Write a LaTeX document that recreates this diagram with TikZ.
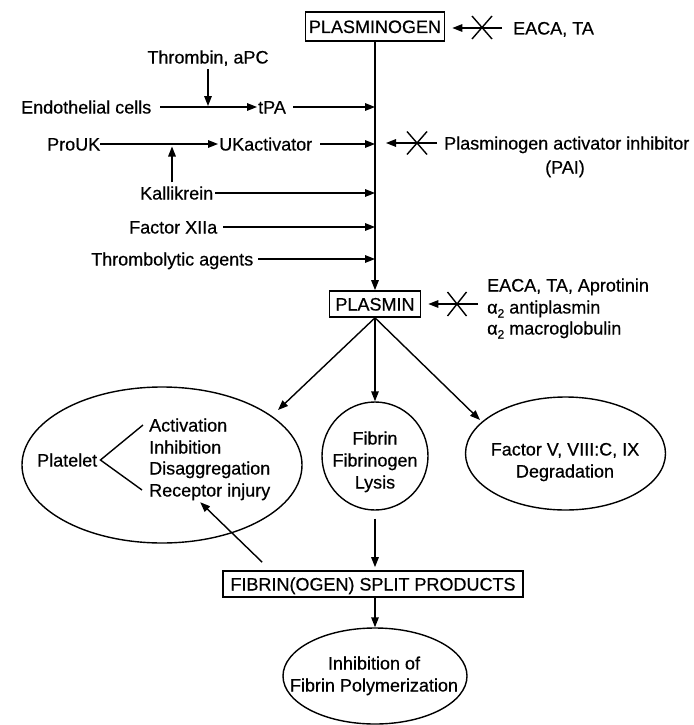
\documentclass[tikz,border=0pt]{standalone}
\usepackage{fontspec}
\setmainfont{Liberation Sans}[BoldFont={Liberation Sans}, BoldFeatures={FakeBold=0.5}]
\usetikzlibrary{arrows.meta,shapes.geometric,calc}
\newcommand\alftwo{α\raisebox{-4pt}{\fontsize{12}{12}\selectfont 2}}
\begin{document}
\begin{tikzpicture}[x=1pt,y=-1pt, font=\fontsize{18}{22}\selectfont\bfseries,
  txt/.style={inner sep=0pt, text height=13pt, text depth=0pt},
  box/.style={draw, line width=1.6pt, inner sep=0pt, text height=13pt, text depth=0pt},
  ell/.style={draw, ellipse, line width=1.4pt, inner sep=0pt},
  arr/.style={line width=1.4pt, -{Triangle[length=10pt,width=7.5pt]}},
  ln/.style={line width=1.4pt},
  xmark/.style={line width=1.4pt}]
\fill[white] (0,0) rectangle (693,725);
\useasboundingbox (0,0) rectangle (693,725);

% top box
\node[box, minimum width=139pt, minimum height=29pt] (plg) at (375,26.5) {PLASMINOGEN};
\node[txt, anchor=west] (eaca) at (513,28) {EACA, TA};
\draw[arr, shorten <=11pt, shorten >=7pt] (eaca.west) -- (eaca.west -| plg.east);
\coordinate (x1) at (482,27.5);
\draw[xmark] ($(x1)+(-10,-11.5)$) -- ($(x1)+(10,11.5)$) ($(x1)+(-10,11.5)$) -- ($(x1)+(10,-11.5)$);

% activators
\node[txt] (thr) at (208,57) {Thrombin, aPC};
\node[txt, anchor=west] (endo) at (21,107) {Endothelial cells};
\node[txt, anchor=west] (tpa) at (258,107) {tPA};
\node[txt, anchor=west] (prouk) at (47,144) {ProUK};
\node[txt, anchor=west] (uka) at (219,144) {UKactivator};
\node[txt, anchor=west] (kal) at (140,193) {Kallikrein};
\node[txt, anchor=west] (f12) at (129,227) {Factor XIIa};
\node[txt, anchor=west] (thrombo) at (91,259) {Thrombolytic agents};
\node[txt, anchor=west] (pai) at (444,143) {Plasminogen activator inhibitor};
\node[txt] (pai2) at (565,167) {(PAI)};

% plasmin box
\node[box, minimum width=91pt, minimum height=26pt] (plasmin) at (375,304) {PLASMIN};
\draw[arr] (plg.south) -- (plasmin.north);

\draw[arr, shorten <=9pt, shorten >=1pt] (endo.east) -- (tpa.west);
\draw[arr, shorten <=5.5pt, shorten >=1pt] (thr.south) -- (thr.south |- endo.east);
\draw[arr, shorten <=7pt] (tpa.east) -- (tpa.east -| plg.south);
\draw[arr, shorten >=1pt] (prouk.east) -- (uka.west);
\draw[arr, shorten <=8pt] (uka.east) -- (uka.east -| plg.south);
\coordinate (kb) at (172,0);
\draw[arr, shorten <=4pt, shorten >=2.5pt] (kal.north -| kb) -- (prouk.east -| kb);
\draw[arr, shorten <=2pt] (kal.east) -- (kal.east -| plg.south);
\draw[arr, shorten <=6pt] (f12.east) -- (f12.east -| plg.south);
\draw[arr, shorten <=5pt] (thrombo.east) -- (thrombo.east -| plg.south);

\draw[arr, shorten <=7pt, shorten >=11pt] (pai.west) -- (pai.west -| plg.south);
\coordinate (x2) at (417,143);
\draw[xmark] ($(x2)+(-10,-11.5)$) -- ($(x2)+(10,11.5)$) ($(x2)+(-10,11.5)$) -- ($(x2)+(10,-11.5)$);

% plasmin inhibitors
\node[txt, anchor=west] (inA) at (487,285) {EACA, TA, Aprotinin};
\node[txt, anchor=west] (inB) at (487,307) {\alftwo\ antiplasmin};
\node[txt, anchor=west] (inC) at (487,328) {\alftwo\ macroglobulin};
\draw[arr, shorten <=9pt, shorten >=7pt] (plasmin.east -| inB.west) -- (plasmin.east);
\coordinate (x3) at (457,304);
\draw[xmark] ($(x3)+(-9.5,-12)$) -- ($(x3)+(9.5,12)$) ($(x3)+(-9.5,12)$) -- ($(x3)+(9.5,-12)$);

% ellipses
\node[ell, minimum width=280pt, minimum height=156pt] (platE) at (162,465) {};
\node[ell, minimum width=106pt, minimum height=108pt] (fibE) at (375,456) {};
\node[ell, minimum width=200pt, minimum height=113pt] (facE) at (565.5,453.5) {};
\node[ell, minimum width=184pt, minimum height=96pt] (inhE) at (375,676) {};

\coordinate (tipL) at (278,410);
\coordinate (tipR) at (480,420);
\draw[arr] (plasmin.south) -- (tipL);
\draw[arr] (plasmin.south) -- (fibE.north);
\draw[arr] (plasmin.south) -- (tipR);

% platelet
\node[txt, anchor=west] (plat) at (37,460) {Platelet};
\node[txt, anchor=west] (act) at (149,425) {Activation};
\node[txt, anchor=west] (inhb) at (149,447) {Inhibition};
\node[txt, anchor=west] (dis) at (149,468) {Disaggregation};
\node[txt, anchor=west] (rec) at (149,490) {Receptor injury};
\draw[ln] ([xshift=-6pt]act.west) -- ([xshift=3pt]plat.east) -- ([xshift=-7pt]rec.west);

% fibrin
\node[txt] (fb1) at (375,438) {Fibrin};
\node[txt] (fb2) at (375,460) {Fibrinogen};
\node[txt] (fb3) at (375,482) {Lysis};

% factor
\node[txt] (fc1) at (565,449) {Factor V, VIII:C, IX};
\node[txt] (fc2) at (565,471) {Degradation};

% split products
\node[box, minimum width=300pt, minimum height=26pt] (fsp) at (373,584) {FIBRIN(OGEN) SPLIT PRODUCTS};
\draw[arr, shorten <=8pt, shorten >=3pt] (fibE.south) -- (fibE.south |- fsp.north);
\draw[arr] (inhE.north |- fsp.south) -- (inhE.north);
\draw[arr] ($(fsp.north west)+(40,-8)$) -- ($(rec.south)+(-9.5,5.5)$);

% inhibition
\node[txt] (ih1) at (374,663) {Inhibition of};
\node[txt] (ih2) at (374,685) {Fibrin Polymerization};
\end{tikzpicture}
\end{document}
